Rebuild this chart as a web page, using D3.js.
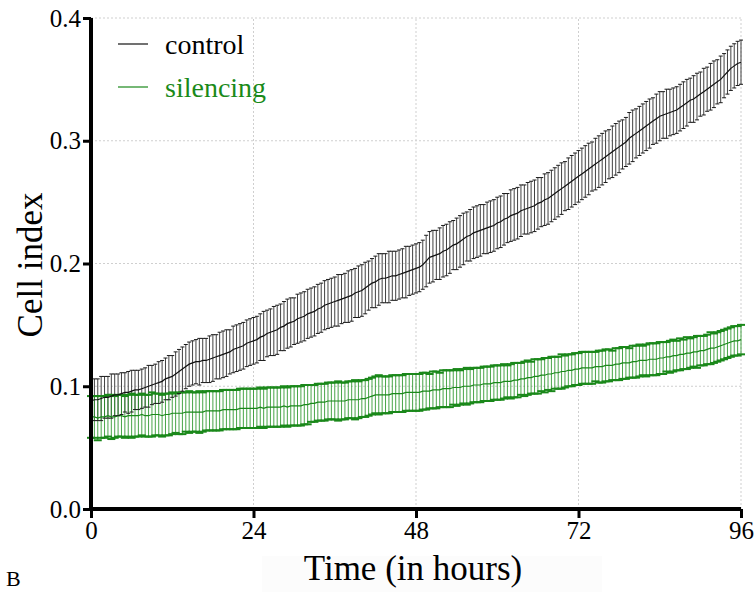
<!DOCTYPE html>
<html>
<head>
<meta charset="utf-8">
<script src="https://cdn.jsdelivr.net/npm/d3@7"></script>
<style>
  html, body { margin: 0; padding: 0; background: #fff; }
  svg { display: block; }
  text { font-family: "Liberation Serif", "DejaVu Serif", serif; }
</style>
</head>
<body>
<div id="chart"></div>
<script>
// ---- data (one reading every 0.5 h) ----
const timeStep = 0.5;
const xTicks = [0, 24, 48, 72, 96];
const yTicks = [0.0, 0.1, 0.2, 0.3, 0.4];
const seriesNames = ["control", "silencing"];

const controlMean = [
  0.088,0.089,0.089,0.090,0.091,0.091,0.092,0.093,0.093,0.094,0.095,0.095,0.096,0.097,0.097,
  0.098,0.099,0.100,0.101,0.102,0.103,0.104,0.106,0.107,0.108,0.110,0.112,0.114,0.116,0.118,
  0.119,0.120,0.120,0.121,0.121,0.122,0.123,0.124,0.125,0.126,0.127,0.128,0.130,0.131,0.132,0.133,0.135,0.136,0.137,
  0.138,0.140,0.141,0.143,0.144,0.145,0.146,0.148,0.149,0.151,0.152,0.153,0.155,0.156,0.157,0.159,0.160,0.161,0.163,0.164,0.166,0.167,
  0.168,0.169,0.170,0.171,0.172,0.173,0.174,0.176,0.177,0.178,0.180,0.182,0.184,0.185,0.187,0.188,0.188,0.189,0.190,0.190,0.191,0.192,0.193,0.194,0.195,0.196,
  0.197,0.199,0.202,0.205,0.206,0.207,0.208,0.210,0.211,0.213,0.215,0.216,0.218,0.220,0.222,0.223,0.225,0.226,0.227,0.228,0.229,0.230,0.231,0.233,
  0.234,0.236,0.237,0.239,0.240,0.241,0.243,0.244,0.245,0.246,0.247,0.249,0.250,0.252,0.253,0.255,0.257,0.259,0.261,0.263,0.265,0.267,0.269,0.271,
  0.273,0.275,0.277,0.279,0.281,0.283,0.285,0.287,0.289,0.291,0.293,0.295,0.297,0.299,0.302,0.304,0.306,0.308,0.310,0.312,0.314,0.316,0.318,0.320,
  0.321,0.322,0.323,0.324,0.325,0.327,0.329,0.331,0.333,0.334,0.336,0.338,0.340,0.342,0.344,0.346,0.348,0.350,0.353,0.356,0.359,0.361,0.363,0.364
];
const controlSD = [
  0.017,0.017,0.017,0.018,0.017,0.017,0.018,0.017,0.017,0.017,0.016,0.017,0.017,0.016,0.016,
  0.016,0.016,0.017,0.016,0.016,0.017,0.017,0.017,0.018,0.017,0.018,0.018,0.018,0.018,0.018,
  0.018,0.018,0.019,0.018,0.018,0.019,0.019,0.018,0.019,0.019,0.019,0.018,0.019,0.019,0.019,0.019,0.019,0.019,0.019,
  0.019,0.019,0.020,0.019,0.019,0.020,0.020,0.019,0.020,0.020,0.020,0.019,0.020,0.020,0.020,0.020,0.020,0.020,0.020,0.020,0.020,0.020,
  0.020,0.020,0.021,0.020,0.020,0.021,0.021,0.020,0.021,0.021,0.021,0.020,0.020,0.021,0.021,0.020,0.020,0.021,0.020,0.020,0.020,0.020,0.021,0.020,0.020,0.020,
  0.020,0.020,0.021,0.021,0.021,0.020,0.021,0.021,0.021,0.021,0.020,0.021,0.021,0.021,0.020,0.021,0.021,0.021,0.021,0.020,0.021,0.021,0.021,0.021,
  0.021,0.021,0.020,0.021,0.021,0.021,0.021,0.020,0.021,0.021,0.021,0.021,0.020,0.021,0.021,0.021,0.021,0.021,0.021,0.020,0.021,0.021,0.021,0.021,
  0.021,0.021,0.021,0.020,0.021,0.021,0.021,0.021,0.020,0.021,0.021,0.021,0.020,0.020,0.021,0.021,0.020,0.020,0.020,0.020,0.020,0.019,0.020,0.020,
  0.019,0.020,0.019,0.019,0.019,0.019,0.019,0.019,0.018,0.019,0.019,0.018,0.019,0.018,0.019,0.019,0.018,0.019,0.018,0.018,0.018,0.018,0.018,0.018
];
const silencingMean = [
  0.075,0.075,0.074,0.075,0.075,0.076,0.075,0.075,0.076,0.076,0.075,0.076,0.076,0.076,0.076,
  0.077,0.076,0.076,0.077,0.077,0.077,0.076,0.077,0.077,0.078,0.078,0.078,0.078,0.079,0.079,
  0.079,0.079,0.079,0.079,0.080,0.080,0.080,0.080,0.080,0.081,0.081,0.081,0.081,0.081,0.082,0.082,0.082,0.082,0.082,
  0.082,0.083,0.082,0.083,0.083,0.083,0.083,0.083,0.084,0.083,0.084,0.084,0.084,0.084,0.085,0.085,0.086,0.086,0.087,0.087,0.087,0.088,
  0.088,0.088,0.088,0.088,0.088,0.089,0.089,0.089,0.089,0.090,0.090,0.091,0.092,0.093,0.093,0.093,0.093,0.093,0.094,0.094,0.094,0.094,0.095,0.095,0.095,0.095,
  0.095,0.096,0.096,0.096,0.097,0.097,0.097,0.098,0.098,0.098,0.099,0.099,0.099,0.100,0.100,0.100,0.101,0.101,0.101,0.102,0.102,0.102,0.103,0.103,
  0.103,0.104,0.104,0.104,0.105,0.105,0.106,0.106,0.107,0.107,0.108,0.108,0.109,0.109,0.110,0.110,0.111,0.111,0.112,0.112,0.113,0.113,0.114,0.114,
  0.115,0.115,0.115,0.115,0.116,0.116,0.116,0.117,0.117,0.117,0.118,0.118,0.119,0.119,0.119,0.120,0.120,0.121,0.121,0.121,0.122,0.122,0.122,0.123,
  0.123,0.124,0.124,0.125,0.125,0.126,0.126,0.127,0.127,0.128,0.128,0.129,0.129,0.130,0.131,0.131,0.132,0.133,0.134,0.135,0.136,0.137,0.137,0.138
];
const silencingSD = [
  0.017,0.017,0.018,0.017,0.017,0.017,0.018,0.017,0.017,0.017,0.017,0.017,0.018,0.017,0.017,
  0.017,0.017,0.017,0.018,0.017,0.017,0.017,0.017,0.017,0.017,0.016,0.017,0.017,0.016,0.017,
  0.016,0.016,0.017,0.016,0.016,0.016,0.016,0.016,0.016,0.016,0.016,0.016,0.016,0.016,0.016,0.016,0.016,0.016,0.016,
  0.016,0.016,0.016,0.016,0.016,0.016,0.016,0.016,0.016,0.016,0.016,0.016,0.016,0.016,0.016,0.016,0.015,0.015,0.015,0.015,0.015,0.015,
  0.015,0.015,0.016,0.015,0.015,0.015,0.015,0.016,0.015,0.015,0.015,0.015,0.015,0.015,0.016,0.015,0.015,0.015,0.015,0.015,0.015,0.015,0.015,0.015,0.015,0.015,
  0.015,0.015,0.015,0.014,0.015,0.015,0.014,0.015,0.015,0.015,0.014,0.015,0.014,0.014,0.015,0.014,0.014,0.014,0.014,0.014,0.014,0.014,0.014,0.014,
  0.014,0.014,0.013,0.014,0.014,0.014,0.013,0.014,0.014,0.013,0.014,0.014,0.013,0.014,0.013,0.014,0.013,0.013,0.014,0.013,0.013,0.013,0.013,0.013,
  0.013,0.013,0.013,0.013,0.012,0.013,0.013,0.013,0.013,0.012,0.013,0.013,0.013,0.013,0.012,0.013,0.013,0.013,0.012,0.013,0.013,0.013,0.013,0.013,
  0.013,0.012,0.013,0.013,0.012,0.013,0.012,0.013,0.012,0.012,0.013,0.012,0.012,0.012,0.013,0.012,0.012,0.012,0.012,0.012,0.012,0.012,0.012,0.012
];

// ---- layout ----
const W = 755, H = 592;
const svg = d3.select("#chart").append("svg").attr("width", W).attr("height", H);

const x = d3.scaleLinear().domain([0, 96]).range([91, 741]);
const y = d3.scaleLinear().domain([0, 0.4]).range([509, 18]);

const toPoints = (means, sds) => means.map((m, i) => ({ t: i * timeStep, m, sd: sds[i] }));
const control = toPoints(controlMean, controlSD);
const silencing = toPoints(silencingMean, silencingSD);

// very faint box behind x title (as in the scan)
svg.append("rect").attr("x", 262).attr("y", 556).attr("width", 340).attr("height", 36)
  .attr("fill", "#fcfcfc");

// grid
const grid = svg.append("g").attr("stroke", "#cfcfcf").attr("stroke-width", 1)
  .attr("stroke-dasharray", "2,2").attr("fill", "none");
grid.selectAll(".gy").data(yTicks.filter(v => v > 0)).join("line")
  .attr("x1", x(0)).attr("x2", x(96)).attr("y1", d => y(d)).attr("y2", d => y(d));
grid.selectAll(".gx").data(xTicks.filter(v => v > 0)).join("line")
  .attr("y1", y(0)).attr("y2", y(0.4)).attr("x1", d => x(d)).attr("x2", d => x(d));

// error bars helpers
function drawBars(data, opt) {
  const g = svg.append("g");
  g.selectAll("line.v").data(data).join("line")
    .attr("x1", d => x(d.t)).attr("x2", d => x(d.t))
    .attr("y1", d => y(d.m - d.sd)).attr("y2", d => y(d.m + d.sd))
    .attr("stroke", opt.bar).attr("stroke-width", opt.barW).attr("opacity", opt.barOp);
  return g;
}
function drawCaps(data, opt) {
  const g = svg.append("g").attr("stroke", opt.cap).attr("stroke-width", opt.capW);
  ["top", "bot"].forEach(k => {
    g.selectAll("line." + k).data(data).join("line").attr("class", k)
      .attr("x1", d => x(d.t) - opt.capHalf).attr("x2", d => x(d.t) + opt.capHalf)
      .attr("y1", d => y(k === "top" ? d.m + d.sd : d.m - d.sd))
      .attr("y2", d => y(k === "top" ? d.m + d.sd : d.m - d.sd));
  });
}
const line = d3.line().x(d => x(d.t)).y(d => y(d.m));

const cOpt = { bar: "#404040", barW: 1, barOp: 1, cap: "#1a1a1a", capW: 1, capHalf: 2 };
const sOpt = { bar: "#2a962a", barW: 1, barOp: 0.85, cap: "#1a881a", capW: 2, capHalf: 4 };

drawBars(control, cOpt);
drawBars(silencing, sOpt);
drawCaps(silencing, sOpt);
svg.append("path").datum(silencing).attr("d", line).attr("fill", "none")
  .attr("stroke", "#1a881a").attr("stroke-width", 1.2);
drawCaps(control, cOpt);
svg.append("path").datum(control).attr("d", line).attr("fill", "none")
  .attr("stroke", "#111").attr("stroke-width", 1.2);

// axes
const yAxis = svg.append("g").attr("transform", `translate(${x(0)},0)`)
  .call(d3.axisLeft(y).tickValues(yTicks).tickFormat(d3.format(".1f")).tickSize(8).tickSizeOuter(0).tickPadding(2));
const xAxis = svg.append("g").attr("transform", `translate(0,${y(0)})`)
  .call(d3.axisBottom(x).tickValues(xTicks).tickFormat(d3.format("d")).tickSize(9).tickSizeOuter(0).tickPadding(3));
[yAxis, xAxis].forEach(a => {
  a.select(".domain").attr("stroke", "#000").attr("stroke-width", 4);
  a.selectAll(".tick line").attr("stroke", "#000").attr("stroke-width", 3);
  a.selectAll(".tick text").attr("fill", "#000").style("font-size", "25px")
    .style("font-family", "'Liberation Serif', serif");
});
yAxis.select(".domain").attr("d", `M0,${y(0.4)}V${y(0) + 2}`);
xAxis.select(".domain").attr("d", `M${x(0) - 2},0H${x(96)}`);

// axis titles
svg.append("text").attr("x", 413).attr("y", 580).attr("text-anchor", "middle")
  .style("font-size", "35px").text("Time (in hours)");
svg.append("text").attr("transform", "translate(42,265) rotate(-90)").attr("text-anchor", "middle")
  .style("font-size", "35px").text("Cell index");
svg.append("text").attr("x", 6).attr("y", 586).style("font-size", "22px").text("B");

// legend
const legendColors = ["#111", "#1a881a"];
const leg = svg.append("g");
seriesNames.forEach((name, i) => {
  const ly = 44 + i * 43;
  leg.append("line").attr("x1", 118).attr("x2", 148).attr("y1", ly).attr("y2", ly)
    .attr("stroke", legendColors[i]).attr("stroke-width", 1.2);
  leg.append("text").attr("x", 165).attr("y", ly + 10).style("font-size", "28px")
    .attr("fill", i === 0 ? "#000" : "#1a8a1a").text(name);
});
</script>
</body>
</html>
